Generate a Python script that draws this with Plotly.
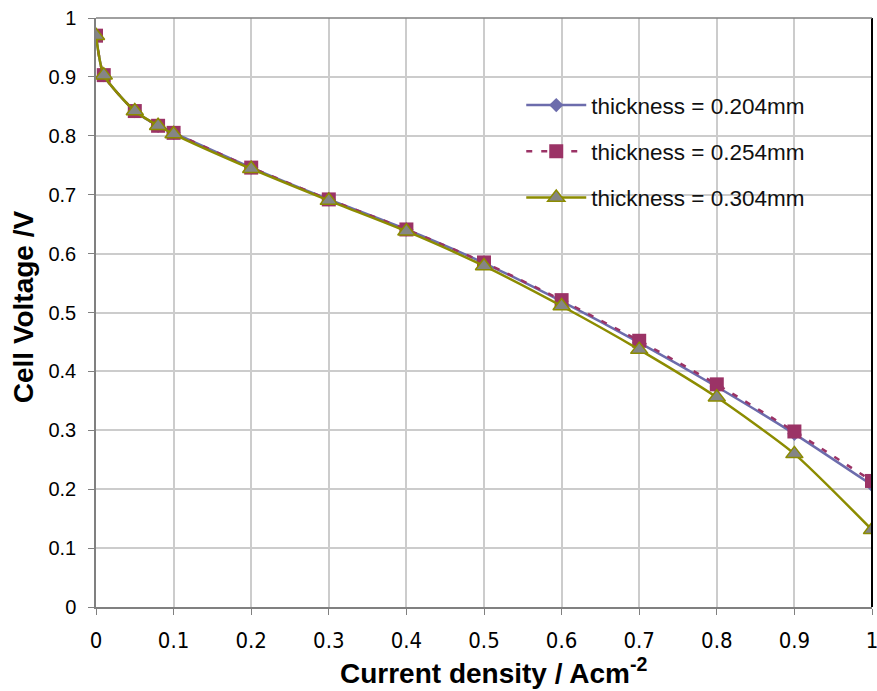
import plotly.graph_objects as go

x_vals = [0, 0.01, 0.05, 0.08, 0.1, 0.2, 0.3, 0.4, 0.5, 0.6, 0.7, 0.8, 0.9, 1.0]
v_204 = [0.970, 0.903, 0.842, 0.817, 0.805, 0.746, 0.692, 0.641, 0.584, 0.519, 0.449, 0.374, 0.294, 0.207]
v_254 = [0.970, 0.903, 0.842, 0.817, 0.805, 0.746, 0.692, 0.641, 0.585, 0.521, 0.452, 0.378, 0.298, 0.214]
v_304 = [0.970, 0.903, 0.842, 0.817, 0.803, 0.744, 0.690, 0.638, 0.579, 0.511, 0.437, 0.356, 0.260, 0.131]
names = ["thickness = 0.204mm", "thickness = 0.254mm", "thickness = 0.304mm"]
x_ticks = [0, 0.1, 0.2, 0.3, 0.4, 0.5, 0.6, 0.7, 0.8, 0.9, 1]
x_tick_text = ["0", "0.1", "0.2", "0.3", "0.4", "0.5", "0.6", "0.7", "0.8", "0.9", "1"]
y_ticks = [0, 0.1, 0.2, 0.3, 0.4, 0.5, 0.6, 0.7, 0.8, 0.9, 1]
y_tick_text = ["0", "0.1", "0.2", "0.3", "0.4", "0.5", "0.6", "0.7", "0.8", "0.9", "1"]
x_title = "<b>Current density / Acm<sup>-2</sup></b>"
y_title = "<b>Cell Voltage /V</b>"

fig = go.Figure()
fig.add_trace(go.Scatter(
    x=x_vals, y=v_204, name=names[0], mode="lines+markers", legendgroup="a",
    line=dict(color="#6C6CAC", width=2.5, shape="spline", smoothing=0.6),
    marker=dict(symbol="diamond", size=11, color="#6C6CAC"),
))
fig.add_trace(go.Scatter(
    x=x_vals, y=v_254, name=names[1], mode="lines+markers", legendgroup="b",
    line=dict(color="#9B3366", width=2.5, dash="6px,9px", shape="spline", smoothing=0.6),
    marker=dict(symbol="square", size=14, color="#9B3366"),
))
fig.add_trace(go.Scatter(
    x=x_vals, y=v_304, name=names[2], mode="lines+markers", legendgroup="c",
    line=dict(color="#8C8C00", width=2.5, shape="spline", smoothing=0.6),
    marker=dict(symbol="triangle-up", size=15, color="#858585",
                line=dict(color="#8C8C00", width=1.5)),
))

fig.update_layout(
    width=877, height=691,
    margin=dict(l=96, r=5, t=18, b=84),
    paper_bgcolor="white", plot_bgcolor="white",
    font=dict(family="Liberation Sans, Arial, sans-serif", color="black"),
    showlegend=True,
    legend=dict(x=0.548, y=0.888, xanchor="left", yanchor="top",
                bgcolor="rgba(255,255,255,0)", borderwidth=0,
                font=dict(size=22.5, family="Liberation Sans, Arial, sans-serif", color="#111111"),
                itemwidth=60, tracegroupgap=14),
    xaxis=dict(
        range=[0, 1], tickvals=x_ticks, ticktext=x_tick_text, automargin=False,
        ticklabeloverflow="allow",
        showgrid=True, gridcolor="#CCCCCC", gridwidth=1.5,
        showline=True, linecolor="#808080", linewidth=1.5, mirror=False,
        ticks="outside", ticklen=6, tickcolor="#808080", ticklabelstandoff=7,
        tickfont=dict(size=22, family="'Liberation Sans Narrow', 'DejaVu Sans Condensed', 'Roboto Condensed', sans-serif"),
        zeroline=False,
    ),
    yaxis=dict(
        range=[0, 1], tickvals=y_ticks, ticktext=y_tick_text, automargin=False,
        ticklabeloverflow="allow",
        showgrid=True, gridcolor="#CCCCCC", gridwidth=1.5,
        showline=True, linecolor="#808080", linewidth=1.5, mirror=False,
        ticks="outside", ticklen=6, tickcolor="#808080", ticklabelstandoff=8,
        tickfont=dict(size=20),
        zeroline=False,
    ),
    annotations=[
        dict(text=x_title, xref="paper", yref="paper", x=0.512, y=-0.109,
             xanchor="center", yanchor="middle", showarrow=False,
             font=dict(size=28, family="Liberation Sans, Arial, sans-serif", color="black")),
        dict(text=y_title, xref="paper", yref="paper", x=-0.094, y=0.509,
             xanchor="center", yanchor="middle", showarrow=False, textangle=-90,
             font=dict(size=28, family="Liberation Sans, Arial, sans-serif", color="black")),
    ],
)
fig.add_shape(type="line", xref="paper", yref="paper", x0=1, x1=1, y0=0, y1=1,
              line=dict(color="black", width=2))
fig.add_shape(type="line", xref="paper", yref="paper", x0=0, x1=1, y0=1, y1=1,
              line=dict(color="#808080", width=1.5))

fig.write_html("out.html")
